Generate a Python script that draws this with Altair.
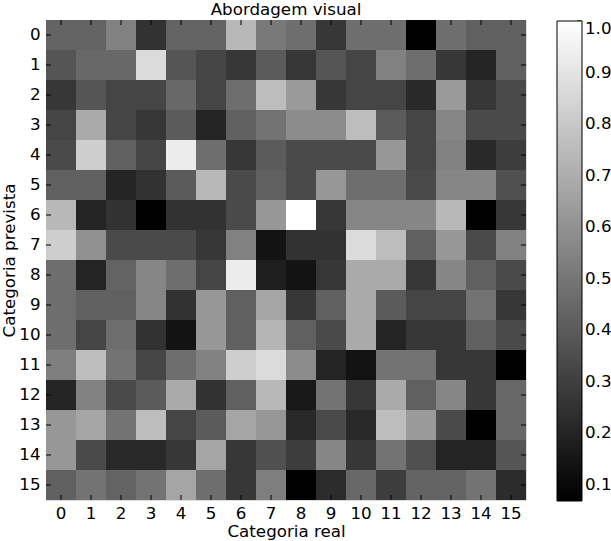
import altair as alt
import pandas as pd

categories = list(range(16))

# values read from the grey levels (colour bar runs from ~0.069 to 1.0)
row_0 = [0.43, 0.43, 0.54, 0.25, 0.43, 0.43, 0.74, 0.51, 0.47, 0.27, 0.47, 0.47, 0.07, 0.47, 0.42, 0.42]
row_1 = [0.38, 0.45, 0.45, 0.87, 0.38, 0.32, 0.27, 0.40, 0.27, 0.38, 0.32, 0.54, 0.47, 0.27, 0.20, 0.42]
row_2 = [0.27, 0.38, 0.32, 0.32, 0.45, 0.32, 0.47, 0.76, 0.63, 0.27, 0.32, 0.32, 0.22, 0.63, 0.27, 0.34]
row_3 = [0.32, 0.69, 0.32, 0.27, 0.40, 0.20, 0.42, 0.49, 0.58, 0.58, 0.76, 0.40, 0.32, 0.56, 0.34, 0.34]
row_4 = [0.34, 0.82, 0.42, 0.32, 0.93, 0.47, 0.27, 0.40, 0.34, 0.34, 0.34, 0.62, 0.32, 0.54, 0.22, 0.29]
row_5 = [0.42, 0.42, 0.20, 0.25, 0.40, 0.74, 0.34, 0.42, 0.34, 0.62, 0.47, 0.47, 0.34, 0.56, 0.56, 0.36]
row_6 = [0.74, 0.20, 0.25, 0.07, 0.25, 0.25, 0.34, 0.62, 1.00, 0.27, 0.56, 0.56, 0.56, 0.74, 0.07, 0.27]
row_7 = [0.82, 0.60, 0.34, 0.34, 0.34, 0.27, 0.54, 0.14, 0.25, 0.25, 0.87, 0.76, 0.42, 0.62, 0.34, 0.54]
row_8 = [0.47, 0.20, 0.43, 0.56, 0.47, 0.32, 0.93, 0.18, 0.14, 0.27, 0.69, 0.69, 0.27, 0.56, 0.42, 0.34]
row_9 = [0.47, 0.42, 0.42, 0.56, 0.25, 0.62, 0.42, 0.67, 0.27, 0.42, 0.69, 0.40, 0.32, 0.32, 0.49, 0.27]
row_10 = [0.47, 0.32, 0.47, 0.25, 0.14, 0.62, 0.42, 0.73, 0.42, 0.34, 0.69, 0.20, 0.27, 0.27, 0.42, 0.34]
row_11 = [0.53, 0.76, 0.49, 0.32, 0.47, 0.54, 0.82, 0.87, 0.58, 0.20, 0.14, 0.49, 0.49, 0.27, 0.27, 0.07]
row_12 = [0.20, 0.54, 0.34, 0.40, 0.69, 0.25, 0.42, 0.74, 0.16, 0.49, 0.27, 0.69, 0.42, 0.56, 0.27, 0.45]
row_13 = [0.62, 0.67, 0.49, 0.76, 0.32, 0.40, 0.67, 0.62, 0.22, 0.34, 0.22, 0.76, 0.63, 0.34, 0.07, 0.45]
row_14 = [0.62, 0.34, 0.22, 0.22, 0.27, 0.67, 0.27, 0.36, 0.29, 0.56, 0.27, 0.49, 0.36, 0.20, 0.20, 0.38]
row_15 = [0.42, 0.49, 0.43, 0.49, 0.67, 0.47, 0.27, 0.53, 0.07, 0.23, 0.45, 0.29, 0.43, 0.43, 0.49, 0.23]

rows = [row_0, row_1, row_2, row_3, row_4, row_5, row_6, row_7,
        row_8, row_9, row_10, row_11, row_12, row_13, row_14, row_15]

colorbar_ticks = [0.1, 0.2, 0.3, 0.4, 0.5, 0.6, 0.7, 0.8, 0.9, 1.0]
value_min, value_max = 0.069, 1.0

records = []
for p, row in zip(categories, rows):
    for r, v in zip(categories, row):
        records.append({"real": r, "prevista": p, "v": v})
df = pd.DataFrame(records)
ticks_df = pd.DataFrame({"real": categories, "prevista": categories})
cb_df = pd.DataFrame({"t": colorbar_ticks})

FONT = "DejaVu Sans"
FS = 16.7

x_axis = alt.Axis(title="Categoria real", labelAngle=0, ticks=False, domain=False, grid=False,
                  labelFont=FONT, labelFontSize=FS, labelColor="black", labelPadding=5,
                  titleFont=FONT, titleFontSize=FS, titleFontWeight="normal", titleColor="black",
                  titlePadding=2)
y_axis = alt.Axis(title="Categoria prevista", ticks=False, domain=False, grid=False,
                  labelFont=FONT, labelFontSize=FS, labelColor="black", labelPadding=6,
                  titleFont=FONT, titleFontSize=FS, titleFontWeight="normal", titleColor="black",
                  titlePadding=0)

xs = alt.Scale(paddingInner=0, paddingOuter=0)
ys = alt.Scale(paddingInner=0, paddingOuter=0)

heat = alt.Chart(df).mark_rect().encode(
    x=alt.X("real:O", scale=xs, axis=x_axis),
    y=alt.Y("prevista:O", scale=ys, axis=y_axis),
    color=alt.Color(
        "v:Q",
        scale=alt.Scale(domain=[value_min, value_max], range=["black", "white"],
                        interpolate="rgb", nice=False, zero=False),
        legend=alt.Legend(
            title=None, orient="none", legendX=511, legendY=1, direction="vertical",
            gradientLength=480, gradientThickness=25, values=colorbar_ticks, format=".1f",
            labelFont=FONT, labelFontSize=FS, labelColor="black", labelOffset=3,
            labelBaseline="middle", labelOverlap=False, gradientStrokeColor="black",
            gradientStrokeWidth=1, padding=0,
        ),
    ),
)

base_t = alt.Chart(ticks_df).mark_rule(color="black", strokeWidth=1)
t_bottom = base_t.encode(x=alt.X("real:O", scale=xs, axis=x_axis), y=alt.value(475), y2=alt.value(480))
t_top = base_t.encode(x=alt.X("real:O", scale=xs, axis=x_axis), y=alt.value(0), y2=alt.value(5))
t_left = base_t.encode(y=alt.Y("prevista:O", scale=ys, axis=y_axis), x=alt.value(0), x2=alt.value(5))
t_right = base_t.encode(y=alt.Y("prevista:O", scale=ys, axis=y_axis), x=alt.value(475), x2=alt.value(480))

main = alt.layer(heat, t_bottom, t_top, t_left, t_right)

# small inner ticks on the colour bar's right edge
cb_ticks = alt.Chart(cb_df).mark_rule(color="black", strokeWidth=1).encode(
    y=alt.Y("t:Q", scale=alt.Scale(domain=[value_min, value_max], range=[481, 1], nice=False, zero=False),
            axis=None),
    x=alt.value(531), x2=alt.value(536),
)

chart = alt.layer(main, cb_ticks).resolve_scale(y="independent").properties(
    width=480, height=480,
    title=alt.Title("Abordagem visual", font=FONT, fontSize=FS, fontWeight="normal",
                    color="black", offset=1, anchor="middle"),
    autosize=alt.AutoSizeParams(type="none"),
    padding={"left": 46, "top": 20, "right": 85, "bottom": 41},
).configure_view(stroke="black", strokeWidth=1).configure(background="white")

chart.save("out.html", embed_options={"renderer": "svg", "actions": False})
